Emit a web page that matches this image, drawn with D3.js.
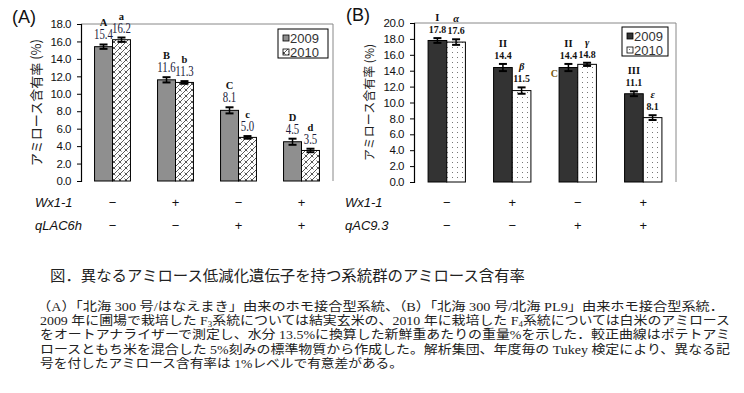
<!DOCTYPE html>
<html>
<head>
<meta charset="utf-8">
<script src="https://cdn.jsdelivr.net/npm/d3@7/dist/d3.min.js"></script>
<style>
  body { margin: 0; background: #fff; }
  svg { display: block; }
</style>
</head>
<body>
<svg id="chart" width="744" height="393"></svg>
<script>
// panel A data
let groupsA = ["A1", "A2", "A3", "A4"]
let valsA2009 = [15.4, 11.6, 8.1, 4.5]
let errA2009 = [0.25, 0.3, 0.35, 0.35]
let valsA2010 = [16.2, 11.3, 5.0, 3.5]
let errA2010 = [0.25, 0.15, 0.15, 0.2]
let lettersA2009 = ["A", "B", "C", "D"]
let lettersA2010 = ["a", "b", "c", "d"]
let wxA = ["\u2212", "+", "\u2212", "+"]
let qlacA = ["\u2212", "\u2212", "+", "+"]

// panel B data
let groupsB = ["B1", "B2", "B3", "B4"]
let valsB2009 = [17.8, 14.4, 14.4, 11.1]
let errB2009 = [0.3, 0.45, 0.45, 0.3]
let valsB2010 = [17.6, 11.5, 14.8, 8.1]
let errB2010 = [0.35, 0.4, 0.2, 0.3]
let lettersB2009 = ["I", "II", "II", "III"]
let lettersB2010 = ["\u03b1", "\u03b2", "\u03b3", "\u03b5"]
let wxB = ["\u2212", "+", "\u2212", "+"]
let qacB = ["\u2212", "\u2212", "+", "+"]

let years = ["2009", "2010"]
let ticksA = d3.range(0, 18.01, 2)
let ticksB = d3.range(0, 20.01, 2)

let captionTitle = "図．異なるアミロース低減化遺伝子を持つ系統群のアミロース含有率"
let captionLines = [
  "（A）「北海 300 号/はなえまき」由来のホモ接合型系統、（B）「北海 300 号/北海 PL9」由来ホモ接合型系統．",
  "2009 年に圃場で栽培した F|3|系統については結実玄米の、2010 年に栽培した F|4|系統については白米のアミロース",
  "をオートアナライザーで測定し、水分 13.5%に換算した新鮮重あたりの重量%を示した．較正曲線はポテトアミ",
  "ロースともち米を混合した 5%刻みの標準物質から作成した。解析集団、年度毎の Tukey 検定により、異なる記",
  "号を付したアミロース含有率は 1%レベルで有意差がある。"
]

let svg = d3.select("#chart")
svg.append("rect").attr("width", 744).attr("height", 393).attr("fill", "#fff")

let defs = svg.append("defs")
let hatch = defs.append("pattern").attr("id", "hatch")
    .attr("patternUnits", "userSpaceOnUse").attr("width", 6).attr("height", 6)
hatch.append("rect").attr("width", 6).attr("height", 6).attr("fill", "#fff")
hatch.append("path").attr("d", "M0,6 L6,0 M0,0 L1.5,1.5 M4.5,4.5 L6,6")
    .attr("stroke", "#444").attr("stroke-width", 0.9).attr("fill", "none")
let dots = defs.append("pattern").attr("id", "dots")
    .attr("patternUnits", "userSpaceOnUse").attr("width", 5).attr("height", 5)
dots.append("rect").attr("width", 5).attr("height", 5).attr("fill", "#fff")
dots.append("rect").attr("x", 2).attr("y", 2).attr("width", 1).attr("height", 1).attr("fill", "#777")

function drawPanel(cfg) {
    let g = svg.append("g")
    let x0 = d3.scaleBand().domain(cfg.groups).range([cfg.left, cfg.right])
        .paddingInner(0.43).paddingOuter(0.215)
    let x1 = d3.scaleBand().domain(years).range([0, x0.bandwidth()])
    let y = d3.scaleLinear().domain([0, cfg.max]).range([cfg.bottom, cfg.top])

    // frame
    g.append("path")
        .attr("d", `M${cfg.left},${cfg.top} H${cfg.right} V${cfg.bottom}`)
        .attr("fill", "none").attr("stroke", "#888").attr("stroke-width", 1)

    let yAxis = g.append("g").attr("transform", `translate(${cfg.left},0)`)
        .call(d3.axisLeft(y).tickValues(cfg.ticks).tickFormat(d3.format(".1f")).tickSize(4).tickPadding(6))
    yAxis.select(".domain").attr("stroke", "#000").attr("stroke-width", 1.2)
    yAxis.selectAll(".tick line").attr("stroke", "#000")
    yAxis.selectAll(".tick text").attr("font-family", "Liberation Sans, Arial, sans-serif")
        .attr("font-size", 11.5).attr("fill", "#111").attr("letter-spacing", -0.5)

    let series = [
        {year: "2009", vals: cfg.v2009, errs: cfg.e2009, letters: cfg.l2009, fill: cfg.fill2009},
        {year: "2010", vals: cfg.v2010, errs: cfg.e2010, letters: cfg.l2010, fill: cfg.fill2010}
    ]

    for (let s of series) {
        let items = cfg.groups.map((k, i) => ({k: k, v: s.vals[i], e: s.errs[i], l: s.letters[i]}))
        let bx = d => x0(d.k) + x1(s.year)
        let cx = d => bx(d) + x1.bandwidth() / 2

        g.selectAll(null).data(items).enter().append("rect")
            .attr("x", bx).attr("width", x1.bandwidth())
            .attr("y", d => y(d.v)).attr("height", d => y(0) - y(d.v))
            .attr("fill", s.fill).attr("stroke", "#000").attr("stroke-width", 1)

        // error bars
        let eb = g.selectAll(null).data(items).enter().append("g")
        eb.append("line").attr("x1", cx).attr("x2", cx)
            .attr("y1", d => y(d.v - d.e)).attr("y2", d => y(d.v + d.e))
            .attr("stroke", "#000").attr("stroke-width", 1.5)
        eb.append("line").attr("x1", d => cx(d) - 4).attr("x2", d => cx(d) + 4)
            .attr("y1", d => y(d.v + d.e)).attr("y2", d => y(d.v + d.e))
            .attr("stroke", "#000").attr("stroke-width", 2)
        eb.append("line").attr("x1", d => cx(d) - 4).attr("x2", d => cx(d) + 4)
            .attr("y1", d => y(d.v - d.e)).attr("y2", d => y(d.v - d.e))
            .attr("stroke", "#000").attr("stroke-width", 2)

        // value labels
        g.selectAll(null).data(items).enter().append("text")
            .attr("transform", d => `translate(${cx(d)},${y(d.v + d.e) - cfg.valOff}) scale(${cfg.valScale},1)`)
            .attr("text-anchor", "middle")
            .attr("font-family", "Liberation Serif, Times New Roman, serif")
            .attr("font-size", cfg.valSize).attr("font-weight", cfg.valWeight)
            .attr("fill", cfg.valColor)
            .text(d => d.v.toFixed(1))

        // significance letters
        g.selectAll(null).data(items).enter().append("text")
            .attr("x", cx).attr("y", d => y(d.v + d.e) - cfg.valOff - cfg.letOff)
            .attr("text-anchor", "middle")
            .attr("font-family", "Liberation Serif, Times New Roman, serif")
            .attr("font-size", 10.5).attr("font-weight", "bold")
            .attr("font-style", s.year == "2010" && cfg.greekItalic ? "italic" : "normal")
            .attr("fill", "#111")
            .text(d => d.l)
    }

    // legend
    let lg = g.append("g").attr("transform", `translate(${cfg.legX},${cfg.legY})`)
    lg.append("rect").attr("width", cfg.legW).attr("height", 29)
        .attr("fill", "#fff").attr("stroke", "#000").attr("stroke-width", 1)
    series.forEach((s, i) => {
        lg.append("rect").attr("x", 5).attr("y", 6 + i * 14).attr("width", 6).attr("height", 6)
            .attr("fill", s.fill).attr("stroke", "#000").attr("stroke-width", 0.8)
        lg.append("text").attr("x", 12).attr("y", 13.5 + i * 14)
            .attr("font-family", "Liberation Sans, Arial, sans-serif").attr("font-size", 13)
            .attr("fill", "#333").text(s.year)
    })

    // panel tag
    g.append("text").attr("x", cfg.tagX).attr("y", cfg.tagY)
        .attr("font-family", "Liberation Sans, Arial, sans-serif").attr("font-size", 18)
        .attr("fill", "#111").text(cfg.tag)

    // y title
    g.append("text")
        .attr("transform", `translate(${cfg.titleX},${(cfg.top + cfg.bottom) / 2}) rotate(-90)`)
        .attr("text-anchor", "middle")
        .attr("font-family", "Noto Sans CJK JP, sans-serif").attr("font-size", cfg.titleSize)
        .attr("fill", "#222").text("アミロース含有率 (%)")

    // genotype rows
    let rows = [{name: "Wx1-1", signs: cfg.row1, y: 207}, {name: cfg.row2name, signs: cfg.row2, y: 230}]
    for (let r of rows) {
        g.append("text").attr("x", cfg.rowX).attr("y", r.y)
            .attr("font-family", "Liberation Sans, Arial, sans-serif").attr("font-size", 13)
            .attr("font-style", "italic").attr("fill", "#111").text(r.name)
        g.selectAll(null).data(cfg.groups).enter().append("text")
            .attr("x", d => x0(d) + x0.bandwidth() / 2).attr("y", r.y)
            .attr("text-anchor", "middle")
            .attr("font-family", "Liberation Sans, Arial, sans-serif").attr("font-size", 13)
            .attr("fill", "#111").text((d, i) => r.signs[i])
    }
    return {x0: x0, x1: x1, y: y}
}

drawPanel({
    groups: groupsA, left: 81, right: 333, top: 24, bottom: 181, max: 18, ticks: ticksA,
    v2009: valsA2009, e2009: errA2009, l2009: lettersA2009, fill2009: "#8f8f8f",
    v2010: valsA2010, e2010: errA2010, l2010: lettersA2010, fill2010: "url(#hatch)",
    valOff: 5, letOff: 13, valSize: 15, valScale: 0.72, valWeight: "normal", valColor: "#1c1c3c",
    greekItalic: false,
    legX: 278, legY: 29, legW: 50, tag: "(A)", tagX: 12, tagY: 23,
    titleX: 41, titleSize: 13, rowX: 35, row1: wxA, row2name: "qLAC6h", row2: qlacA
})

let pB = drawPanel({
    groups: groupsB, left: 414, right: 676, top: 23, bottom: 182, max: 20, ticks: ticksB,
    v2009: valsB2009, e2009: errB2009, l2009: lettersB2009, fill2009: "#333",
    v2010: valsB2010, e2010: errB2010, l2010: lettersB2010, fill2010: "url(#dots)",
    valOff: 5, letOff: 12, valSize: 11, valScale: 0.9, valWeight: "bold", valColor: "#111",
    greekItalic: true,
    legX: 622, legY: 27, legW: 46, tag: "(B)", tagX: 346, tagY: 21,
    titleX: 374, titleSize: 12, rowX: 345, row1: wxB, row2name: "qAC9.3", row2: qacB
})

// stray mark left beside the third 2009 bar in panel B
svg.append("text")
    .attr("x", pB.x0("B3") - 1).attr("y", pB.y(14.4) + 9)
    .attr("text-anchor", "end")
    .attr("font-family", "Liberation Serif, serif").attr("font-size", 10).attr("font-weight", "bold")
    .attr("fill", "#7a5a10").text("C")

// caption
svg.append("text").attr("x", 50).attr("y", 281).attr("textLength", 475)
    .attr("lengthAdjust", "spacingAndGlyphs")
    .attr("font-family", "Noto Sans CJK JP, sans-serif").attr("font-size", 15)
    .attr("fill", "#222").text(captionTitle)

let lineEnds = [724, 730, 730, 730, 403]
let lineStarts = [37, 40, 40, 40, 40]
captionLines.forEach((line, i) => {
    let t = svg.append("text").attr("x", lineStarts[i]).attr("y", 311 + i * 14.2)
        .attr("textLength", lineEnds[i] - lineStarts[i]).attr("lengthAdjust", "spacingAndGlyphs")
        .attr("font-family", "Liberation Serif, Noto Sans CJK JP, serif").attr("font-size", 12.5)
        .attr("fill", "#222")
    line.split("|").forEach((part, j) => {
        if (j % 2 == 1) {
            t.append("tspan").attr("font-size", 8).attr("dy", 2).text(part)
        } else {
            t.append("tspan").attr("dy", j > 0 ? -2 : 0).text(part)
        }
    })
})
</script>
</body>
</html>
